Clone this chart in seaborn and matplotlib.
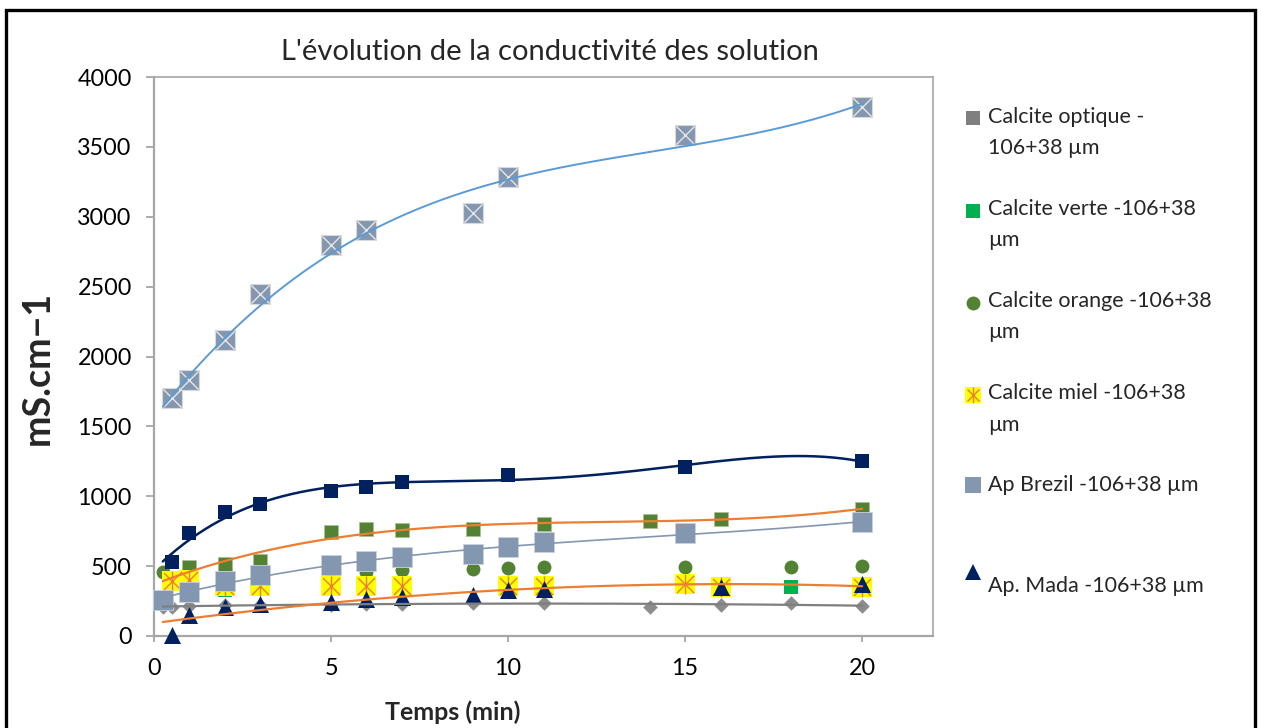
import numpy as np
import matplotlib
matplotlib.use("Agg")
import matplotlib.pyplot as plt
from matplotlib.lines import Line2D
from matplotlib.patches import Rectangle
from matplotlib.legend_handler import HandlerBase
import seaborn as sns

# ---- conductivity readings (mS/cm) against time (min) ----
t_optique = [0.25, 0.5, 1, 2, 3, 5, 6, 7, 9, 11, 14, 16, 18, 20]
c_optique = [205, 210, 215, 220, 225, 225, 230, 230, 235, 238, 210, 222, 238, 215]

t_verte = [0.25, 1, 2, 3, 5, 6, 7, 10, 11, 15, 16, 18, 20]
c_verte = [230, 320, 330, 340, 345, 350, 350, 350, 355, 350, 350, 353, 360]

t_orange = [0.25, 1, 2, 3, 5, 6, 7, 9, 10, 11, 15, 18, 20]
c_orange = [460, 470, 480, 480, 470, 460, 475, 477, 484, 492, 492, 496, 501]

t_miel = [0.5, 1, 2, 3, 5, 6, 7, 10, 11, 15, 16, 20]
c_miel = [390, 400, 360, 360, 360, 360, 360, 355, 360, 372, 353, 353]

t_brezil = [0.25, 1, 2, 3, 5, 6, 7, 9, 10, 11, 15, 20]
c_brezil = [260, 315, 390, 440, 510, 535, 565, 590, 640, 675, 735, 815]

t_mada = [0.5, 1, 2, 3, 5, 6, 7, 9, 10, 11, 16, 20]
c_mada = [10, 150, 210, 230, 245, 265, 280, 293, 330, 333, 350, 375]

t_navy = [0.5, 1, 2, 3, 5, 6, 7, 10, 15, 20]
c_navy = [530, 740, 885, 945, 1040, 1065, 1100, 1150, 1210, 1250]

t_olive = [1, 2, 3, 5, 6, 7, 9, 11, 14, 16, 20]
c_olive = [495, 515, 535, 745, 765, 755, 765, 805, 825, 835, 910]

t_cross = [0.5, 1, 2, 3, 5, 6, 9, 10, 15, 20]
c_cross = [1700, 1830, 2115, 2450, 2795, 2905, 3025, 3285, 3585, 3785]

legend_labels = [
    "Calcite optique -\n106+38 µm",
    "Calcite verte -106+38\nµm",
    "Calcite orange -106+38\nµm",
    "Calcite miel -106+38\nµm",
    "Ap Brezil -106+38 µm\n ",
    "Ap. Mada -106+38 µm",
]
x_ticks = [0, 5, 10, 15, 20]
y_ticks = [0, 500, 1000, 1500, 2000, 2500, 3000, 3500, 4000]

# ---- colours ----
GRAY = "#8c8c8c"
GREEN = "#00b050"
OLIVE = "#548235"
YELLOW = "#ffff00"
ORANGE = "#ed7d31"
SLATE = "#8497b0"
NAVY = "#002060"
SKY = "#5b9bd5"

sns.set_theme(style="white")
plt.rcParams["font.family"] = ["Lato", "DejaVu Sans"]

W, H = 1262, 728
fig = plt.figure(figsize=(W / 100, H / 100), dpi=100)
ax = fig.add_axes([154 / W, 1 - 636 / H, 779 / W, 559 / H])

def pts(t, c, **kw):
    sns.scatterplot(x=t, y=c, ax=ax, legend=False, clip_on=False, **kw)

def trend(t, c, deg, color, lw, z):
    coef = np.polyfit(t, c, deg)
    grid = np.linspace(0.25, 20, 300)
    sns.lineplot(x=grid, y=np.polyval(coef, grid), ax=ax, color=color,
                 lw=lw, zorder=z, legend=False, estimator=None)

# markers, back to front
pts(t_optique, c_optique, marker="D", s=55, color=GRAY, linewidth=0, zorder=3)
pts(t_verte, c_verte, marker="s", s=100, color=GREEN, linewidth=0, zorder=3.2)
pts(t_orange, c_orange, marker="o", s=100, color=OLIVE, linewidth=0, zorder=3.4)
pts(t_olive, c_olive, marker="s", s=100, color=OLIVE, edgecolor="#a9c08f",
    linewidth=0.5, zorder=3.5)
pts(t_miel, c_miel, marker="s", s=190, color=YELLOW, linewidth=0, zorder=3.6)
pts(t_miel, c_miel, marker="x", s=150, color=ORANGE, linewidth=1, zorder=3.7)
pts(t_miel, c_miel, marker="|", s=190, color=ORANGE, linewidth=1, zorder=3.7)
pts(t_brezil, c_brezil, marker="s", s=190, color=SLATE, edgecolor="#c9d2de",
    linewidth=0.6, zorder=3.8)
pts(t_mada, c_mada, marker="^", s=150, color=NAVY, linewidth=0, zorder=3.9)
pts(t_navy, c_navy, marker="s", s=90, color=NAVY, linewidth=0, zorder=4.2)
pts(t_cross, c_cross, marker="s", s=190, color=SLATE, edgecolor="#d9d9d9",
    linewidth=0.8, zorder=4.3)
pts(t_cross, c_cross, marker="x", s=170, color="#e6e6e6", linewidth=1,
    zorder=4.4)

# polynomial trend curves
trend(t_optique, c_optique, 2, "#7f7f7f", 1.6, 4.5)
trend(t_mada, c_mada, 2, ORANGE, 1.6, 4.5)
trend(t_brezil, c_brezil, 3, SLATE, 1.2, 4.5)
trend(t_olive, c_olive, 3, ORANGE, 1.6, 4.5)
trend(t_navy, c_navy, 4, NAVY, 1.8, 4.1)
trend(t_cross, c_cross, 3, SKY, 1.4, 4.5)

# axes styling
ax.set_xlim(0, 22)
ax.set_ylim(0, 4000)
ax.set_xticks(x_ticks)
ax.set_yticks(y_ticks)
ax.tick_params(axis="both", labelsize=16.8, colors="#a0a0a0", labelcolor="black",
               direction="out", width=1.2)
ax.tick_params(axis="y", length=6, pad=10, left=True)
ax.tick_params(axis="x", length=4, pad=12, bottom=True)
for side, sp in ax.spines.items():
    sp.set_color("#a6a6a6")
    sp.set_linewidth(1.6 if side in ("left", "bottom") else 1.2)
ax.grid(False)

ax.set_xlabel("Temps (min)", fontsize=18, fontweight="bold")
ax.xaxis.set_label_coords((453 - 154) / 779, -(712 - 636) / 559)
ax.xaxis.label.set_va("center")
ax.set_ylabel("mS.cm\u22121", fontsize=27, fontweight="bold")
ax.yaxis.set_label_coords(-(154 - 38) / 779, (636 - 368) / 559)
ax.yaxis.label.set_va("center")

fig.text(549.5 / W, 1 - 52 / H, "L'évolution de la conductivité des solution",
         ha="center", va="center", fontsize=21)

# legend
class LiftedMarkers(HandlerBase):
    def __init__(self, lift=0.0):
        super().__init__()
        self.lift = lift

    def create_artists(self, legend, orig_handle, xdescent, ydescent,
                       width, height, fontsize, trans):
        parts = orig_handle if isinstance(orig_handle, tuple) else (orig_handle,)
        x = width / 2 - xdescent
        y = height / 2 - ydescent + self.lift
        out = []
        for p in parts:
            m = Line2D([x], [y], linestyle="none")
            m.update_from(p)
            m.set_transform(trans)
            out.append(m)
        return out

def mk(marker, color, size, **kw):
    return Line2D([], [], linestyle="none", marker=marker, markersize=size,
                  markerfacecolor=color, markeredgecolor=kw.pop("edge", color),
                  markeredgewidth=kw.pop("mew", 0), **kw)

h_optique = mk("s", "#7f7f7f", 10)
h_verte = mk("s", GREEN, 10)
h_orange = mk("o", OLIVE, 10)
h_miel = (mk("s", YELLOW, 11.5),
          mk("x", ORANGE, 9, edge=ORANGE, mew=1),
          mk("|", ORANGE, 11.5, edge=ORANGE, mew=1))
h_brezil = mk("s", SLATE, 11.5)
h_mada = mk("^", NAVY, 11)
handles = [h_optique, h_verte, h_orange, h_miel, h_brezil, h_mada]

hmap = {h: LiftedMarkers(10.5) for h in handles[:4]}
hmap[h_brezil] = LiftedMarkers(14.5)
hmap[h_mada] = LiftedMarkers(8.5)

leg = ax.legend(handles, legend_labels, handler_map=hmap,
                loc="upper left", bbox_to_anchor=(964 / W, 1 - 107 / H),
                bbox_transform=fig.transFigure, frameon=False,
                fontsize=15.5, handlelength=0.8, handletextpad=0.33,
                labelspacing=1.9, borderpad=0, borderaxespad=0)
texts = leg.get_texts()
for t in texts:
    t.set_linespacing(1.7)
texts[4].set_linespacing(2.2)

# outer frame
fig.add_artist(Rectangle((5.5 / W, -0.05), (1255 - 5.5) / W, 1.05 - 10 / H,
                         transform=fig.transFigure, fill=False,
                         edgecolor="black", linewidth=2.4))

fig.savefig("out.png", dpi=100)
